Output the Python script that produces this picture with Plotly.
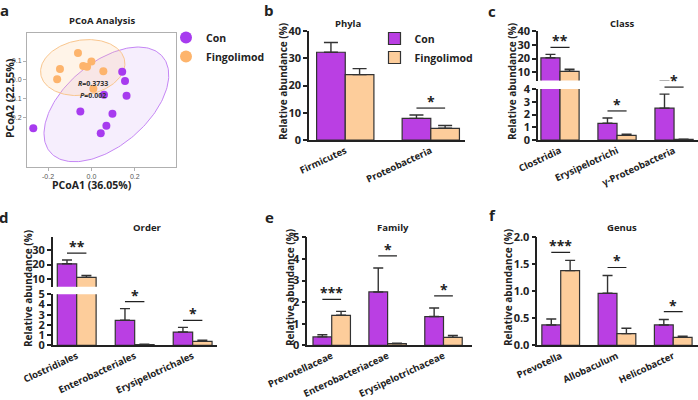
import plotly.graph_objects as go
import numpy as np

W, H = 698, 400
FONT = "Open Sans, sans-serif"
DARK = "#222222"
PURPLE_BAR = "#BA3FE3"
PEACH_BAR = "#FDCD9B"
PURPLE_PT = "#A73BEF"
ORANGE_PT = "#FDB46C"

# ---------------- data: panel a (PCoA) ----------------
groups = ["Con", "Fingolimod"]
con_pc1 = [-0.268, -0.051, 0.142, 0.155, 0.162, 0.058, 0.097, 0.069, 0.043]
con_pc2 = [-0.259, -0.170, 0.043, -0.007, -0.086, -0.080, -0.182, -0.246, -0.286]
fin_pc1 = [-0.062, 0.000, -0.038, -0.020, -0.145, -0.158, 0.055, 0.009]
fin_pc2 = [0.143, 0.098, 0.073, 0.070, 0.057, 0.002, 0.046, -0.048]
# confidence ellipses: centre, two conjugate semi-axis vectors (data units)
con_ellipse = dict(c=(0.069, -0.132), u=(0.254, 0.2625), v=(0.135, -0.159))
fin_ellipse = dict(c=(-0.040, 0.065), u=(0.192, 0.0446), v=(0.031, -0.143))
anosim_r = "0.3733"
anosim_p = "0.002"
pcoa_ticks_x = [-0.2, 0.0, 0.2]
pcoa_ticks_y = [-0.2, -0.1, 0.0, 0.1]

# ---------------- data: bar panels ----------------
phyla = ["Firmicutes", "Proteobacteria"]
phyla_con = [32.2, 7.95]
phyla_con_se = [3.6, 1.2]
phyla_fin = [24.0, 4.3]
phyla_fin_se = [2.2, 1.0]
phyla_sig = [None, "*"]

class_cats = ["Clostridia", "Erysipelotrichi", "γ-Proteobacteria"]
class_con = [20.5, 1.31, 2.5]
class_con_se = [2.5, 0.42, 1.1]
class_fin = [10.7, 0.37, 0.05]
class_fin_se = [1.5, 0.08, 0.02]
class_sig = ["**", "*", "*"]

order_cats = ["Clostridiales", "Enterobacteriales", "Erysipelotrichales"]
order_con = [20.5, 2.45, 1.3]
order_con_se = [2.6, 1.15, 0.46]
order_fin = [11.2, 0.08, 0.39]
order_fin_se = [1.3, 0.03, 0.1]
order_sig = ["**", "*", "*"]

family_cats = ["Prevotellaceae", "Enterobacteriaceae", "Erysipelotrichaceae"]
family_con = [0.39, 2.47, 1.33]
family_con_se = [0.10, 1.11, 0.40]
family_fin = [1.39, 0.08, 0.37]
family_fin_se = [0.18, 0.02, 0.09]
family_sig = ["***", "*", "*"]

genus_cats = ["Prevotella", "Allobaculum", "Helicobacter"]
genus_con = [0.377, 0.963, 0.377]
genus_con_se = [0.11, 0.33, 0.10]
genus_fin = [1.383, 0.216, 0.148]
genus_fin_se = [0.19, 0.10, 0.02]
genus_sig = ["***", "*", "*"]

YLABEL = "Relative abundance (%)"


def fx(p):
    return p / W


def fy(p):
    return 1 - p / H


fig = go.Figure()
layout = {}
annotations = []
shapes = []


def ann(text, x, y, size=11, xref="paper", yref="paper", angle=0, color=DARK,
        xanchor="center", yanchor="middle", weight="bold", yshift=0):
    annotations.append(dict(text=text, x=x, y=y, xref=xref, yref=yref, showarrow=False,
                            textangle=angle, xanchor=xanchor, yanchor=yanchor, yshift=yshift,
                            font=dict(family=FONT, size=size, color=color, weight=weight)))


# ---------------- panel a ----------------
def ellipse_pts(e, n=200):
    t = np.linspace(0, 2 * np.pi, n)
    cx, cy = e["c"]
    ux, uy = e["u"]
    vx, vy = e["v"]
    return cx + ux * np.cos(t) + vx * np.sin(t), cy + uy * np.cos(t) + vy * np.sin(t)


ex, ey = ellipse_pts(con_ellipse)
fig.add_trace(go.Scatter(x=ex, y=ey, mode="lines", fill="toself", fillcolor="rgba(200,150,245,0.16)",
                         line=dict(color="#C586F5", width=1), showlegend=False, hoverinfo="skip",
                         xaxis="x", yaxis="y"))
ex, ey = ellipse_pts(fin_ellipse)
fig.add_trace(go.Scatter(x=ex, y=ey, mode="lines", fill="toself", fillcolor="rgba(253,205,150,0.22)",
                         line=dict(color="#F9C68E", width=1), showlegend=False, hoverinfo="skip",
                         xaxis="x", yaxis="y"))
fig.add_trace(go.Scatter(x=con_pc1, y=con_pc2, mode="markers", name=groups[0],
                         marker=dict(color=PURPLE_PT, size=8), legend="legend", xaxis="x", yaxis="y"))
fig.add_trace(go.Scatter(x=fin_pc1, y=fin_pc2, mode="markers", name=groups[1],
                         marker=dict(color=ORANGE_PT, size=8), legend="legend", xaxis="x", yaxis="y"))

a_box = (27, 176, 33, 167)  # left, right, top, bottom (px)
layout["xaxis"] = dict(domain=[fx(a_box[0]), fx(a_box[1])], anchor="y", range=[-0.297, 0.39],
                       tickvals=pcoa_ticks_x, ticktext=[f"{v:.1f}" for v in pcoa_ticks_x],
                       showline=True, mirror=True, linecolor="#B0B0B0", linewidth=1, automargin=False,
                       ticks="outside", ticklen=3, tickcolor="#B0B0B0", showgrid=False, zeroline=False,
                       tickfont=dict(family="Liberation Sans, Arial", size=7, color="#555"))
layout["yaxis"] = dict(domain=[fy(a_box[3]), fy(a_box[2])], anchor="x", range=[-0.467, 0.25],
                       tickvals=pcoa_ticks_y, ticktext=[f"{v:.1f}" for v in pcoa_ticks_y],
                       showline=True, mirror=True, linecolor="#B0B0B0", linewidth=1, automargin=False,
                       ticks="outside", ticklen=3, tickcolor="#B0B0B0", showgrid=False, zeroline=False,
                       tickfont=dict(family="Liberation Sans, Arial", size=7, color="#555"))
ann(f"<i>R</i>={anosim_r}", 0.005, -0.021, size=7, xref="x", yref="y", color="#333")
ann(f"<i>P</i>={anosim_p}", 0.005, -0.082, size=7, xref="x", yref="y", color="#333")
ann("PCoA Analysis", fx(102), fy(21), size=9.5)
ann("PCoA2 (22.55%)", fx(10), fy(98), size=10.5, angle=-90)
ann("PCoA1 (36.05%)", fx(92), fy(185), size=10.5)
ann("a", fx(4), fy(10), size=15)


# ---------------- bar panels ----------------
def bar_panel(xid, cats, con, con_se, fin, fin_se, sig, xpx, xr, segs, cap, off_px,
              legend_on=False):
    """segs: list of (yid, top_px, bottom_px, lo, hi, tickvals) from lowest segment up."""
    xkey = "xaxis" + xid[1:]
    low_yid = segs[0][0]
    layout[xkey] = dict(domain=[fx(xpx[0]), fx(xpx[1])], anchor=low_yid, range=xr,
                        type="category", showline=True, linecolor=DARK, linewidth=1.5,
                        ticks="", tickangle=-25, showgrid=False, zeroline=False, automargin=False,
                        tickfont=dict(family=FONT, size=9.5, color=DARK, weight="bold"))
    for k, (yid, top, bot, lo, hi, tv) in enumerate(segs):
        ykey = "yaxis" + yid[1:]
        layout[ykey] = dict(domain=[fy(bot), fy(top)], anchor=xid, range=[lo, hi], tickvals=tv,
                            ticks="outside", ticklen=4, tickwidth=1.5, tickcolor=DARK,
                            showline=True, linecolor=DARK, linewidth=1.5, showgrid=False,
                            zeroline=False, automargin=False,
                            tickfont=dict(family=FONT, size=11, color=DARK, weight="bold"))
        show = legend_on and k == 0
        for name, vals, se, col in ((groups[0], con, con_se, PURPLE_BAR),
                                    (groups[1], fin, fin_se, PEACH_BAR)):
            fig.add_trace(go.Bar(
                x=cats, y=vals, name=name, xaxis=xid, yaxis=yid,
                marker=dict(color=col, line=dict(color="#333", width=1.2)),
                error_y=dict(type="data", symmetric=False, array=se, arrayminus=[0] * len(se),
                             color="#333", thickness=1.4, width=cap),
                showlegend=show, legend="legend2"))
    # significance markers (x on the category axis, y converted through the segment's scale)
    for i, s in enumerate(sig):
        if not s:
            continue
        top_val = max(con[i] + con_se[i], fin[i] + fin_se[i])
        seg = segs[0]
        for sg in segs:
            if sg[3] <= top_val <= sg[4]:
                seg = sg
        yid, top, bot, lo, hi, tv = seg
        y_px = bot - (top_val - lo) * (bot - top) / (hi - lo) - off_px
        hw = (1 - 0.33) / 4
        shapes.append(dict(type="line", xref=xid, yref="paper", x0=i - hw, x1=i + hw,
                           y0=fy(y_px), y1=fy(y_px), line=dict(color=DARK, width=1.2)))
        ann(s, i, fy(y_px), size=14, xref=xid, yref="paper", yanchor="bottom", yshift=-5)


# b
bar_panel("x2", phyla, phyla_con, phyla_con_se, phyla_fin, phyla_fin_se, phyla_sig,
          (309, 465), [-0.424, 1.40], [("y2", 31, 140, 0, 40, [0, 10, 20, 30, 40])], 7, 7,
          legend_on=True)
ann("Phyla", fx(348), fy(23), size=9.5)
ann(YLABEL, fx(283), fy(82), size=10, angle=-90)
ann("b", fx(269), fy(10), size=15)

# c
bar_panel("x3", class_cats, class_con, class_con_se, class_fin, class_fin_se, class_sig,
          (538, 698), [-0.386, 2.42],
          [("y3", 89, 140, 0, 4, [0, 1, 2, 3, 4]), ("y4", 31, 80.5, 4, 40, [10, 20, 30, 40])], 5, 7)
ann("Class", fx(622), fy(23), size=9.5)
ann(YLABEL, fx(512), fy(82), size=10, angle=-90)
ann("c", fx(492), fy(11), size=15)

# d
bar_panel("x4", order_cats, order_con, order_con_se, order_fin, order_fin_se, order_sig,
          (52.7, 217), [-0.414, 2.42],
          [("y5", 294.3, 345.3, 0, 5, [0, 1, 2, 3, 4, 5]), ("y6", 236.7, 286.7, 4.7, 39.2, [10, 20, 30])],
          5, 7)
ann("Order", fx(147), fy(228), size=9.5)
ann(YLABEL, fx(28), fy(289), size=10, angle=-90)
ann("d", fx(4), fy(217), size=15)

# e
bar_panel("x5", family_cats, family_con, family_con_se, family_fin, family_fin_se, family_sig,
          (307.3, 472), [-0.437, 2.51], [("y7", 237.3, 345.3, 0, 5, [0, 1, 2, 3, 4, 5])], 5, 12)
ann("Family", fx(393), fy(228), size=9.5)
ann(YLABEL, fx(290), fy(288), size=10, angle=-90)
ann("e", fx(269), fy(217), size=15)

# f
bar_panel("x6", genus_cats, genus_con, genus_con_se, genus_fin, genus_fin_se, genus_sig,
          (537.3, 698), [-0.416, 2.44],
          [("y8", 237.3, 345.3, 0, 2, [0, 0.5, 1.0, 1.5, 2.0])], 5, 8)
layout["yaxis8"]["ticktext"] = ["0.0", "0.5", "1.0", "1.5", "2.0"]
ann("Genus", fx(622), fy(228), size=9.5)
ann(YLABEL, fx(508), fy(288), size=10, angle=-90)
ann("f", fx(492), fy(215), size=15)

layout.update(
    width=W, height=H, margin=dict(l=0, r=0, t=0, b=0, autoexpand=False),
    paper_bgcolor="white", plot_bgcolor="rgba(0,0,0,0)",
    barmode="group", bargap=0.33, bargroupgap=0,
    font=dict(family=FONT, color=DARK),
    annotations=annotations, shapes=shapes,
    legend=dict(x=fx(166), y=fy(23), xanchor="left", yanchor="top", bgcolor="rgba(0,0,0,0)",
                font=dict(family=FONT, size=10.5, color=DARK, weight="bold"), tracegroupgap=0,
                itemsizing="constant"),
    legend2=dict(x=fx(374.5), y=fy(24), xanchor="left", yanchor="top", bgcolor="rgba(0,0,0,0)",
                 font=dict(family=FONT, size=10.5, color=DARK, weight="bold"), tracegroupgap=0),
)
fig.update_layout(layout)
# place the figure at the page's top-left corner (remove the default body margin)
fig.write_html("out.html", config={"displayModeBar": False},
               post_script="document.body.style.margin='0';")
